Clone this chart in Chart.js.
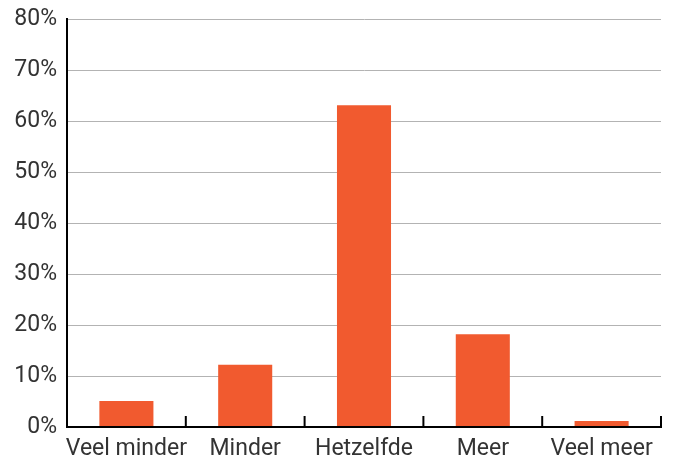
<!DOCTYPE html>
<html>
<head>
<meta charset="utf-8">
<script src="https://cdn.jsdelivr.net/npm/chart.js@4/dist/chart.umd.min.js"></script>
<style>
html,body{margin:0;padding:0;background:#fff;}
#wrap{width:673px;height:461px;position:relative;}
</style>
</head>
<body>
<div id="wrap"><canvas id="c" width="673" height="461"></canvas></div>
<script>
const categories = ["Veel minder", "Minder", "Hetzelfde", "Meer", "Veel meer"];
const values = [5.1, 12.2, 63.1, 18.2, 1.2];
const yTicks = [0, 10, 20, 30, 40, 50, 60, 70, 80];

const boundaryTicks = {
  id: 'boundaryTicks',
  afterDatasetsDraw(chart) {
    const x = chart.scales.x, y = chart.scales.y;
    const ctx = chart.ctx;
    const yb = y.getPixelForValue(0);
    ctx.save();
    ctx.strokeStyle = '#000';
    ctx.lineWidth = 2;
    for (let i = 1; i <= categories.length; i++) {
      const px = i < categories.length
        ? (x.getPixelForTick(i - 1) + x.getPixelForTick(i)) / 2
        : chart.chartArea.right;
      ctx.beginPath();
      ctx.moveTo(px, yb);
      ctx.lineTo(px, yb - 11);
      ctx.stroke();
    }
    ctx.beginPath();
    ctx.moveTo(chart.chartArea.left - 1, yb);
    ctx.lineTo(chart.chartArea.right + 1, yb);
    ctx.stroke();
    ctx.restore();
  }
};

new Chart(document.getElementById('c'), {
  type: 'bar',
  data: {
    labels: categories,
    datasets: [{
      data: values,
      backgroundColor: '#f15a2f',
      categoryPercentage: 0.455,
      barPercentage: 1.0
    }]
  },
  options: {
    responsive: false,
    animation: false,
    layout: { padding: { top: 19, right: 12, bottom: 0, left: 0 } },
    plugins: { legend: { display: false }, tooltip: { enabled: false }, title: { display: false } },
    scales: {
      x: {
        grid: { display: false, drawTicks: false },
        border: { display: false },
        ticks: { font: { family: 'Roboto', size: 23 }, color: '#333', padding: 8, maxRotation: 0, autoSkip: false },
        afterFit(s) { s.height = 34; s.paddingLeft = 0; s.paddingRight = 0; }
      },
      y: {
        min: 0, max: 80,
        afterBuildTicks(s) { s.ticks = yTicks.map(v => ({ value: v })); },
        grid: { color: '#b3b3b3', lineWidth: 1, drawTicks: false },
        border: { display: true, color: '#000', width: 2 },
        ticks: {
          font: { family: 'Roboto', size: 23 }, color: '#333', padding: 10,
          callback: v => v + '%'
        },
        afterFit(s) { s.width = 67; s.paddingTop = 0; s.paddingBottom = 0; }
      }
    }
  },
  plugins: [boundaryTicks]
});
</script>
</body>
</html>
